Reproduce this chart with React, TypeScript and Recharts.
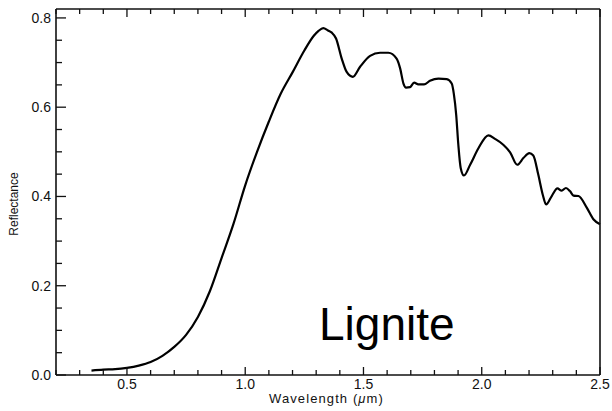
import React from 'react';
import { LineChart, Line, XAxis, YAxis } from 'recharts';

// wavelength (um) and reflectance
const WAVELENGTH = [
  0.35, 0.4, 0.45, 0.5, 0.55, 0.6, 0.65, 0.7, 0.75, 0.8, 0.85, 0.9, 0.95, 1.0,
  1.05, 1.1, 1.15, 1.2, 1.25, 1.29, 1.31, 1.33, 1.35, 1.366, 1.384, 1.408, 1.429,
  1.455, 1.485, 1.528, 1.57, 1.605, 1.64, 1.655, 1.669, 1.68, 1.697, 1.714, 1.732,
  1.756, 1.781, 1.817, 1.852, 1.873, 1.882, 1.892, 1.901, 1.911, 1.925, 1.951,
  1.986, 2.028, 2.056, 2.091, 2.12, 2.15, 2.176, 2.201, 2.218, 2.239, 2.258, 2.272,
  2.296, 2.32, 2.338, 2.356, 2.373, 2.388, 2.409, 2.444, 2.472, 2.5,
];
const REFLECTANCE = [
  0.01, 0.012, 0.013, 0.016, 0.021, 0.029, 0.043, 0.063, 0.09, 0.13, 0.187, 0.262,
  0.338, 0.425, 0.5, 0.568, 0.63, 0.678, 0.727, 0.76, 0.771, 0.777, 0.772, 0.767,
  0.754, 0.709, 0.679, 0.668, 0.69, 0.715, 0.722, 0.722, 0.709, 0.687, 0.653, 0.644,
  0.645, 0.655, 0.651, 0.651, 0.659, 0.664, 0.663, 0.653, 0.63, 0.583, 0.516, 0.464,
  0.447, 0.471, 0.508, 0.537, 0.529, 0.516, 0.499, 0.471, 0.486, 0.497, 0.492,
  0.449, 0.404, 0.382, 0.401, 0.418, 0.413, 0.419, 0.412, 0.402, 0.401, 0.375,
  0.349, 0.338,
];

const X_TICKS = [
  0.2, 0.3, 0.4, 0.5, 0.6, 0.7, 0.8, 0.9, 1.0, 1.1, 1.2, 1.3, 1.4, 1.5, 1.6, 1.7,
  1.8, 1.9, 2.0, 2.1, 2.2, 2.3, 2.4, 2.5,
];
const X_LABELS = [0.5, 1.0, 1.5, 2.0, 2.5];
const Y_TICKS = [
  0, 0.05, 0.1, 0.15, 0.2, 0.25, 0.3, 0.35, 0.4, 0.45, 0.5, 0.55, 0.6, 0.65, 0.7,
  0.75, 0.8,
];
const Y_LABELS = [0, 0.2, 0.4, 0.6, 0.8];

const data = WAVELENGTH.map((w, i) => ({ w, r: REFLECTANCE[i] }));

const FONT = '"Liberation Sans", Arial, sans-serif';
const INK = '#111';

const isIn = (list: number[], v: number) => list.some((l) => Math.abs(l - v) < 1e-6);

const XTick = (props: any) => {
  const { x, y, payload, side } = props;
  const major = isIn(X_LABELS, payload.value);
  const len = major ? 8 : 5;
  const dir = side === 'top' ? 1 : -1;
  return (
    <g>
      <line x1={x} y1={y} x2={x} y2={y + dir * len} stroke={INK} strokeWidth={1.3} />
      {side === 'bottom' && major && (
        <text x={x} y={y + 14} textAnchor="middle" fontSize={14} fontFamily={FONT} fill={INK}>
          {payload.value.toFixed(1)}
        </text>
      )}
    </g>
  );
};

const YTick = (props: any) => {
  const { x, y, payload, side } = props;
  const major = isIn(Y_LABELS, payload.value);
  const len = major ? 10 : 6;
  const dir = side === 'left' ? 1 : -1;
  return (
    <g>
      <line x1={x} y1={y} x2={x + dir * len} y2={y} stroke={INK} strokeWidth={1.3} />
      {side === 'left' && major && (
        <text x={x - 5} y={y + 5} textAnchor="end" fontSize={14} fontFamily={FONT} fill={INK}>
          {payload.value.toFixed(1)}
        </text>
      )}
    </g>
  );
};

const axisLine = { stroke: INK, strokeWidth: 1.6 };

export default function App() {
  return (
    <div style={{ position: 'absolute', left: 0, top: 0, width: 612, height: 411, background: '#fff' }}>
      <LineChart width={612} height={411} data={data} margin={{ top: 8, right: 11, bottom: 0, left: 0 }}>
        <XAxis
          xAxisId="b"
          dataKey="w"
          type="number"
          domain={[0.2, 2.5]}
          ticks={X_TICKS}
          interval={0}
          height={36}
          tickSize={0}
          tickMargin={0}
          axisLine={axisLine}
          tickLine={false}
          tick={(p: any) => <XTick {...p} side="bottom" />}
        />
        <XAxis
          xAxisId="t"
          orientation="top"
          dataKey="w"
          type="number"
          domain={[0.2, 2.5]}
          ticks={X_TICKS}
          interval={0}
          height={1}
          tickSize={0}
          tickMargin={0}
          axisLine={axisLine}
          tickLine={false}
          tick={(p: any) => <XTick {...p} side="top" />}
        />
        <YAxis
          yAxisId="l"
          type="number"
          domain={[0, 0.82]}
          ticks={Y_TICKS}
          interval={0}
          width={56}
          tickSize={0}
          tickMargin={0}
          axisLine={axisLine}
          tickLine={false}
          tick={(p: any) => <YTick {...p} side="left" />}
        />
        <YAxis
          yAxisId="r"
          orientation="right"
          type="number"
          domain={[0, 0.82]}
          ticks={Y_TICKS}
          interval={0}
          width={1}
          tickSize={0}
          tickMargin={0}
          axisLine={axisLine}
          tickLine={false}
          tick={(p: any) => <YTick {...p} side="right" />}
        />
        <Line
          xAxisId="b"
          yAxisId="l"
          type="monotone"
          dataKey="r"
          stroke="#000"
          strokeWidth={2.2}
          dot={false}
          isAnimationActive={false}
        />
      </LineChart>
      <div
        style={{
          position: 'absolute', left: 269, top: 391, fontFamily: FONT, fontSize: 13,
          letterSpacing: 1.1, color: INK, whiteSpace: 'nowrap',
        }}
      >
        Wavelength (<i>μ</i>m)
      </div>
      <div
        style={{
          position: 'absolute', left: 14, top: 204, fontFamily: FONT, fontSize: 12,
          color: INK, whiteSpace: 'nowrap', transform: 'translate(-50%, -50%) rotate(-90deg)',
        }}
      >
        Reflectance
      </div>
      <div
        style={{
          position: 'absolute', left: 319, top: 301, fontFamily: FONT, fontSize: 46,
          color: '#000', whiteSpace: 'nowrap', lineHeight: 1,
        }}
      >
        Lignite
      </div>
    </div>
  );
}
